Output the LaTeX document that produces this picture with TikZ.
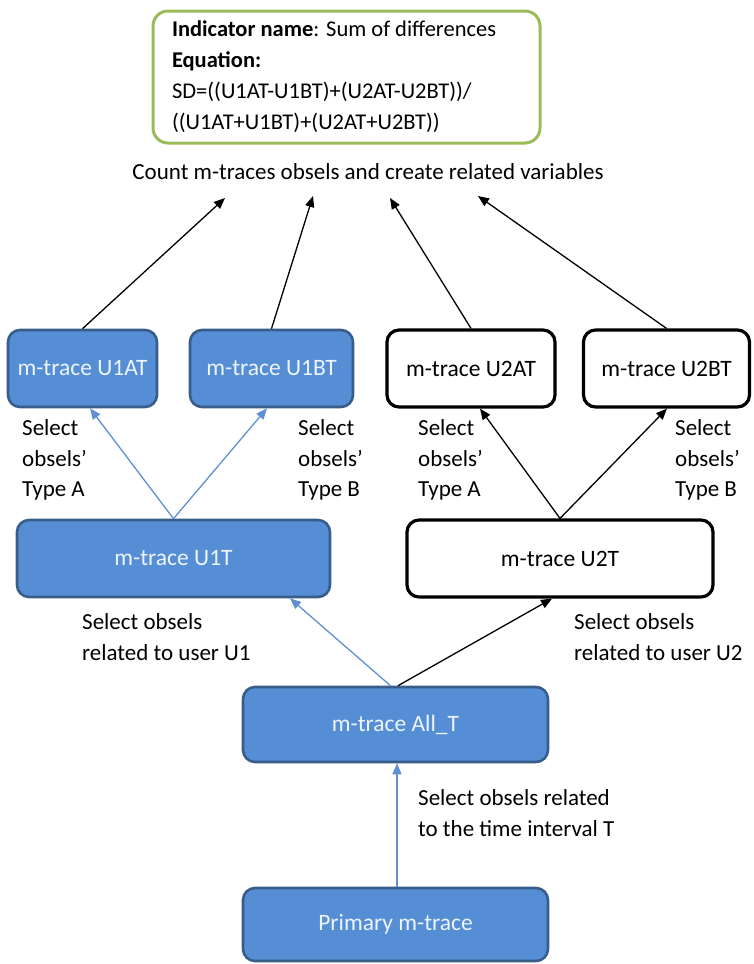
\documentclass[tikz,border=0pt]{standalone}
\usepackage{fontspec}
\setmainfont{Carlito}
\usetikzlibrary{arrows.meta}
\definecolor{boxblue}{RGB}{85,142,213}
\definecolor{boxborder}{RGB}{56,93,138}
\definecolor{arrowblue}{RGB}{95,145,210}
\definecolor{boxgreen}{RGB}{155,187,89}
\definecolor{paletext}{RGB}{238,244,252}
\tikzset{
  bluebox/.style={draw=boxborder, fill=boxblue, line width=2.6pt, rounded corners=12pt,
    text=paletext, font=\fontsize{23.5}{27}\selectfont, inner sep=0pt},
  whitebox/.style={draw=black, fill=white, line width=3.2pt, rounded corners=12pt,
    text=black, font=\fontsize{23.5}{27}\selectfont, inner sep=0pt},
  lbl/.style={align=flush left, anchor=west, inner sep=0pt, font=\fontsize{23}{30.5}\selectfont},
  barrow/.style={draw=arrowblue, line width=1.3pt, -{Triangle[length=11pt,width=9pt]}},
  karrow/.style={draw=black, line width=1.3pt, -{Triangle[length=11pt,width=9pt]}},
}
\begin{document}
\begin{tikzpicture}[x=1pt,y=-1pt]
\useasboundingbox (0,0) rectangle (753,964);
% indicator box
\node[draw=boxgreen, line width=3pt, rounded corners=15pt, minimum width=387pt, minimum height=132pt,
  text width=349pt, align=flush left, inner sep=0pt, font=\fontsize{22.5}{31}\selectfont] (ind) at (346.5,77)
  {\textbf{Indicator name}: Sum of differences\\
   \textbf{Equation:}\\
   SD=((U1AT-U1BT)+(U2AT-U2BT))/\\
   ((U1AT+U1BT)+(U2AT+U2BT))};
\node[inner sep=0pt, font=\fontsize{23}{27}\selectfont] (count) at (368,172)
  {Count m-traces obsels and\ create related variables};
\coordinate (c1) at (225,198);
\coordinate (c2) at (313,196);
\coordinate (c3) at (390,198);
\coordinate (c4) at (478,196);
% level 3 boxes
\node[bluebox, minimum width=149pt, minimum height=77pt] (u1at) at (82.5,368.5) {m-trace U1AT};
\node[bluebox, minimum width=163pt, minimum height=77pt] (u1bt) at (271.5,368.5) {m-trace U1BT};
\node[whitebox, minimum width=168pt, minimum height=77pt] (u2at) at (471,368.5) {m-trace U2AT};
\node[whitebox, minimum width=166pt, minimum height=77pt] (u2bt) at (666.5,368.5) {m-trace U2BT};
% level 2 boxes
\node[bluebox, minimum width=313pt, minimum height=77pt] (u1t) at (173.5,558.5) {m-trace U1T};
\node[whitebox, minimum width=306pt, minimum height=77pt] (u2t) at (560,558.5) {m-trace U2T};
% level 1
\node[bluebox, minimum width=305pt, minimum height=75pt] (allt) at (395.5,724.5) {m-trace All\_T};
\node[bluebox, minimum width=305pt, minimum height=73pt] (prim) at (395.5,924.5) {Primary m-trace};
% labels
\node[lbl] (la1) at (22,460) {Select\\obsels'\\Type A};
\node[lbl] (lb1) at (298,460) {Select\\obsels'\\Type B};
\node[lbl] (la2) at (418,460) {Select\\obsels'\\Type A};
\node[lbl] (lb2) at (675,460) {Select\\obsels'\\Type B};
\node[lbl] (lu1) at (82,637) {Select obsels\\related to user U1};
\node[lbl] (lu2) at (574,637) {Select obsels\\related to user U2};
\node[lbl] (lt) at (418,813) {Select obsels related\\to the\ time interval T};
% arrows to count
\draw[karrow] (u1at.north) -- (c1);
\draw[karrow] (u1bt.north) -- (c2);
\draw[karrow] (u2at.north) -- (c3);
\draw[karrow] (u2bt.north) -- (c4);
% level 2 -> level 3
\draw[barrow] (u1t.north) -- ([xshift=7.5pt]u1at.south);
\draw[barrow] (u1t.north) -- ([xshift=-4.5pt]u1bt.south);
\draw[karrow] (u2t.north) -- ([xshift=9pt]u2at.south);
\draw[karrow] (u2t.north) -- ([xshift=0.5pt]u2bt.south);
% level 1 -> level 2
\draw[barrow] ([xshift=-5pt]allt.north) -- ([xshift=116.5pt]u1t.south);
\draw[karrow] ([xshift=2.5pt]allt.north) -- ([xshift=-8pt]u2t.south);
% primary -> all
\draw[barrow] ([xshift=1.5pt]prim.north) -- ([xshift=1.5pt]allt.south);
\end{tikzpicture}
\end{document}
